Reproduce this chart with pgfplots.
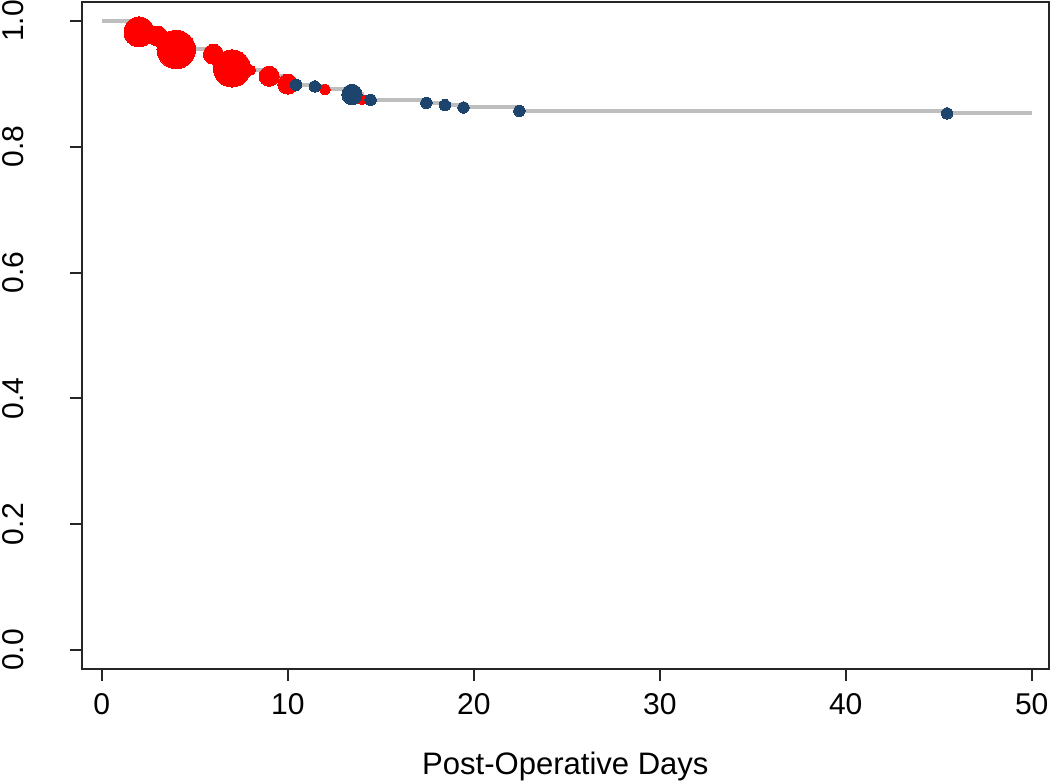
\documentclass[border={1.5pt 0pt 0pt 0pt}]{standalone}
\usepackage{pgfplots}
\pgfplotsset{compat=1.18}
\usepackage{pgfplotstable}
\usepackage{fontspec}
\setmainfont{Liberation Sans}

\definecolor{kmgray}{RGB}{190,190,190}
\definecolor{kmred}{RGB}{255,0,0}
\definecolor{kmblue}{RGB}{28,68,108}

% survival curve (step levels)
\pgfplotstableread{
t s
0 1.000
2 0.9825
3 0.9757
4 0.9545
6 0.947
7 0.9244
8 0.9217
9 0.912
10 0.8995
10.45 0.8985
11.45 0.8958
12 0.891
13.45 0.883
14 0.875
14.45 0.8745
17.45 0.8697
18.45 0.866
19.45 0.8624
22.45 0.857
45.45 0.853
50 0.853
}\curve

% events, r = marker radius
\pgfplotstableread{
t s r
2 0.9825 7.5
3 0.9757 5
4 0.9545 9.6
6 0.947 5
7 0.9244 9.3
8 0.9217 2.5
9 0.912 5
10 0.8995 5
12 0.891 2.7
14 0.875 2.5
}\events

% censored
\pgfplotstableread{
t s r
10.45 0.8985 2.85
11.45 0.8958 2.85
13.45 0.883 5.1
14.45 0.8745 2.85
17.45 0.8697 2.85
18.45 0.866 2.85
19.45 0.8624 2.85
22.45 0.857 2.85
45.45 0.853 2.85
}\censored

\begin{document}
\begin{tikzpicture}
\begin{axis}[
    scale only axis,
    width=483pt, height=333pt,
    xmin=-1.08, xmax=50.93,
    ymin=-0.030, ymax=1.030,
    xtick={0,10,20,30,40,50},
    ytick={0,0.2,0.4,0.6,0.8,1.0},
    /pgf/number format/assume math mode=true,
    tick pos=left,
    tick align=outside,
    major tick length=6pt,
    tick style={black!85, line width=1pt},
    axis line style={black!85, line width=1pt},
    ticklabel style={font=\fontsize{15}{17}\selectfont, inner sep=0pt},
    yticklabel style={rotate=90, anchor=south,
        /pgf/number format/fixed, /pgf/number format/fixed zerofill,
        /pgf/number format/precision=1},
    yticklabel shift=22.5pt,
    xticklabel style={anchor=north},
    xticklabel shift=6pt,
    xlabel={Post-Operative Days},
    xlabel style={font=\fontsize{15.5}{18}\selectfont, at={(axis description cs:0.5,0)}, anchor=north, yshift=-41.5pt, inner sep=0pt},
    clip mode=individual,
]
\addplot[const plot, kmgray, line width=2pt] table[x=t, y=s] {\curve};
\addplot[scatter, only marks, mark=*,
    mark options={line width=0pt},
    scatter/use mapped color={draw=kmred, fill=kmred},
    visualization depends on={\thisrow{r} \as \msize},
    scatter/@pre marker code/.append style={/tikz/mark size=\msize}]
    table[x=t, y=s] {\events};
\addplot[scatter, only marks, mark=*,
    mark options={line width=0pt},
    scatter/use mapped color={draw=kmblue, fill=kmblue},
    visualization depends on={\thisrow{r} \as \msize},
    scatter/@pre marker code/.append style={/tikz/mark size=\msize}]
    table[x=t, y=s] {\censored};
\end{axis}
\end{tikzpicture}
\end{document}
